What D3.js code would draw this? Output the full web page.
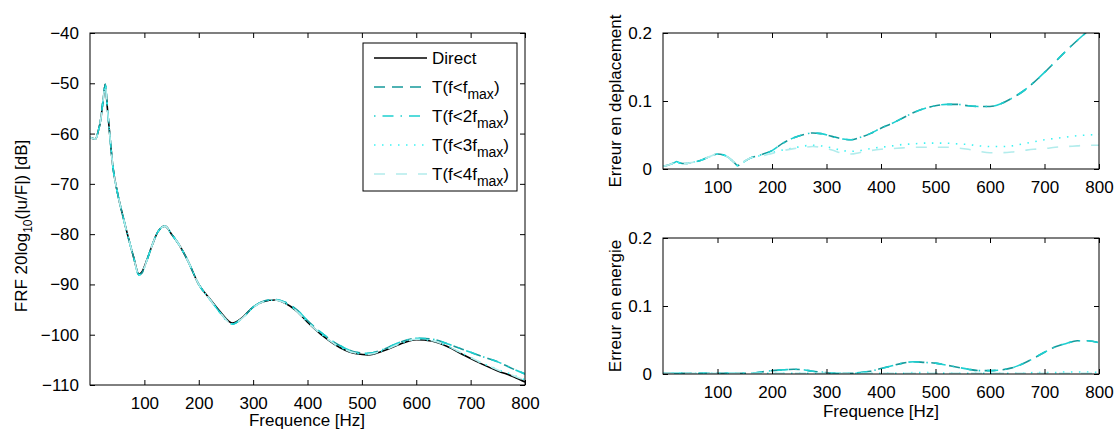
<!DOCTYPE html>
<html>
<head>
<meta charset="utf-8">
<script src="https://cdn.jsdelivr.net/npm/d3@7"></script>
<style>
  html, body { margin: 0; padding: 0; background: #fff; }
  svg { display: block; }
  text { font-family: "Liberation Sans", Arial, Helvetica, sans-serif; fill: #000; }
</style>
</head>
<body>
<svg id="chart" width="1119" height="434"></svg>
<script>
// ---------------- DATA ----------------
const frfFreq = [0, 5, 10, 15, 20, 25, 28, 32, 36, 42, 50, 60, 70, 80, 90, 95, 105, 115, 125, 138, 150, 165, 180, 200, 220, 240, 255, 262, 280, 300, 320, 340, 360, 380, 400, 430, 460, 490, 512, 540, 570, 600, 630, 660, 690, 720, 750, 780, 800];
const frfDirect = [-60.8, -61.0, -61.1, -59.6, -57.0, -52.5, -50.2, -55.0, -59.8, -66.5, -71.5, -76.2, -80.5, -84.5, -88.0, -87.6, -85.0, -82.0, -79.5, -78.4, -80.0, -82.3, -85.3, -90.0, -92.8, -95.5, -97.3, -97.7, -96.6, -94.5, -93.4, -93.1, -93.8, -95.3, -97.5, -100.4, -102.6, -103.8, -104.0, -103.2, -101.9, -101.0, -101.3, -102.5, -104.2, -105.8, -107.2, -108.4, -109.4];
const frfT1 = [-60.8, -61.0, -61.1, -59.6, -57.0, -52.5, -50.2, -55.0, -59.8, -66.5, -71.5, -76.2, -80.5, -84.5, -88.1, -87.8, -85.1, -82.0, -79.5, -78.4, -80.0, -82.3, -85.3, -90.0, -92.9, -95.7, -97.5, -97.9, -96.7, -94.5, -93.3, -93.0, -93.6, -95.0, -97.2, -100.0, -102.2, -103.5, -103.7, -102.9, -101.5, -100.7, -100.9, -101.9, -103.1, -104.3, -105.4, -106.9, -107.8];
const frfT2 = [-60.8, -61.0, -61.1, -59.6, -57.0, -52.5, -50.2, -55.0, -59.8, -66.5, -71.5, -76.2, -80.5, -84.5, -88.1, -87.8, -85.1, -82.0, -79.5, -78.4, -80.0, -82.3, -85.3, -90.0, -92.9, -95.7, -97.5, -97.9, -96.7, -94.5, -93.3, -93.0, -93.6, -95.0, -97.2, -100.0, -102.2, -103.5, -103.7, -102.9, -101.5, -100.7, -100.9, -101.9, -103.1, -104.3, -105.4, -106.9, -107.8];
const frfT3 = [-60.8, -61.0, -61.1, -59.6, -57.0, -52.5, -50.2, -55.0, -59.8, -66.5, -71.5, -76.2, -80.5, -84.5, -88.1, -87.8, -85.1, -82.0, -79.5, -78.4, -80.0, -82.3, -85.3, -90.0, -92.9, -95.7, -97.5, -97.9, -96.7, -94.6, -93.4, -93.1, -93.8, -95.3, -97.5, -100.3, -102.5, -103.7, -103.9, -103.1, -101.8, -100.9, -101.2, -102.4, -104.0, -105.6, -106.9, -108.1, -109.0];
const frfT4 = [-60.8, -61.0, -61.1, -59.6, -57.0, -52.5, -50.2, -55.0, -59.8, -66.5, -71.5, -76.2, -80.5, -84.5, -88.1, -87.8, -85.1, -82.0, -79.5, -78.4, -80.0, -82.3, -85.3, -90.0, -92.9, -95.7, -97.5, -97.9, -96.7, -94.6, -93.4, -93.1, -93.8, -95.3, -97.5, -100.3, -102.5, -103.7, -103.9, -103.1, -101.8, -100.9, -101.2, -102.4, -104.0, -105.6, -107.0, -108.2, -109.1];

const errFreq = [0, 10, 20, 25, 30, 40, 55, 70, 85, 100, 110, 120, 130, 137, 145, 160, 180, 200, 220, 240, 260, 275, 290, 310, 330, 345, 360, 380, 400, 420, 440, 460, 480, 500, 520, 540, 560, 580, 600, 620, 640, 660, 680, 700, 720, 740, 760, 780, 800];
const dispT1 = [0.004, 0.006, 0.009, 0.011, 0.009, 0.008, 0.010, 0.013, 0.018, 0.022, 0.021, 0.017, 0.010, 0.005, 0.009, 0.016, 0.021, 0.027, 0.038, 0.046, 0.051, 0.053, 0.052, 0.048, 0.044, 0.043, 0.046, 0.052, 0.060, 0.067, 0.075, 0.083, 0.089, 0.093, 0.095, 0.095, 0.093, 0.092, 0.092, 0.096, 0.104, 0.114, 0.127, 0.142, 0.158, 0.174, 0.189, 0.203, 0.215];
const dispT2 = [0.004, 0.006, 0.009, 0.011, 0.009, 0.008, 0.010, 0.013, 0.018, 0.022, 0.021, 0.017, 0.010, 0.005, 0.009, 0.016, 0.021, 0.027, 0.038, 0.046, 0.051, 0.053, 0.052, 0.048, 0.044, 0.043, 0.046, 0.052, 0.060, 0.067, 0.075, 0.083, 0.089, 0.093, 0.095, 0.095, 0.093, 0.092, 0.092, 0.096, 0.104, 0.114, 0.127, 0.142, 0.158, 0.174, 0.189, 0.203, 0.215];
const dispT3 = [0.004, 0.006, 0.009, 0.011, 0.009, 0.008, 0.010, 0.013, 0.018, 0.022, 0.021, 0.017, 0.010, 0.005, 0.009, 0.016, 0.020, 0.024, 0.028, 0.031, 0.034, 0.035, 0.034, 0.031, 0.027, 0.026, 0.027, 0.030, 0.032, 0.034, 0.036, 0.037, 0.038, 0.038, 0.038, 0.037, 0.036, 0.034, 0.033, 0.033, 0.034, 0.037, 0.040, 0.043, 0.045, 0.047, 0.049, 0.050, 0.051];
const dispT4 = [0.004, 0.006, 0.009, 0.011, 0.009, 0.008, 0.010, 0.013, 0.018, 0.022, 0.021, 0.017, 0.010, 0.005, 0.009, 0.016, 0.019, 0.023, 0.027, 0.030, 0.032, 0.033, 0.032, 0.028, 0.023, 0.022, 0.024, 0.027, 0.029, 0.030, 0.031, 0.032, 0.032, 0.032, 0.032, 0.031, 0.029, 0.026, 0.024, 0.024, 0.025, 0.027, 0.029, 0.030, 0.032, 0.033, 0.034, 0.035, 0.035];

const energyT1 = [0.001, 0.001, 0.001, 0.001, 0.001, 0.001, 0.001, 0.001, 0.001, 0.001, 0.001, 0.001, 0.001, 0.001, 0.001, 0.001, 0.003, 0.005, 0.006, 0.007, 0.006, 0.004, 0.003, 0.001, 0.001, 0.001, 0.002, 0.004, 0.008, 0.012, 0.016, 0.018, 0.017, 0.016, 0.013, 0.010, 0.007, 0.005, 0.005, 0.006, 0.009, 0.015, 0.023, 0.032, 0.040, 0.045, 0.049, 0.049, 0.046];
const energyT2 = [0.001, 0.001, 0.001, 0.001, 0.001, 0.001, 0.001, 0.001, 0.001, 0.001, 0.001, 0.001, 0.001, 0.001, 0.001, 0.001, 0.003, 0.005, 0.006, 0.007, 0.006, 0.004, 0.003, 0.001, 0.001, 0.001, 0.002, 0.004, 0.008, 0.012, 0.016, 0.018, 0.017, 0.016, 0.013, 0.010, 0.007, 0.005, 0.005, 0.006, 0.009, 0.015, 0.023, 0.032, 0.040, 0.045, 0.049, 0.049, 0.046];
const energyT3 = [0.001, 0.001, 0.001, 0.001, 0.001, 0.001, 0.001, 0.001, 0.001, 0.001, 0.001, 0.001, 0.001, 0.001, 0.001, 0.001, 0.001, 0.001, 0.001, 0.001, 0.001, 0.001, 0.001, 0.001, 0.001, 0.001, 0.001, 0.001, 0.001, 0.001, 0.001, 0.002, 0.002, 0.002, 0.001, 0.001, 0.001, 0.001, 0.001, 0.001, 0.001, 0.001, 0.002, 0.002, 0.002, 0.003, 0.003, 0.003, 0.002];
const energyT4 = [0.001, 0.001, 0.001, 0.001, 0.001, 0.001, 0.001, 0.001, 0.001, 0.001, 0.001, 0.001, 0.001, 0.001, 0.001, 0.001, 0.001, 0.001, 0.001, 0.001, 0.001, 0.001, 0.001, 0.001, 0.001, 0.001, 0.001, 0.001, 0.001, 0.001, 0.001, 0.001, 0.001, 0.001, 0.001, 0.001, 0.001, 0.001, 0.001, 0.001, 0.001, 0.001, 0.001, 0.001, 0.001, 0.001, 0.001, 0.001, 0.001];

const seriesNames = ["Direct", "T1", "T2", "T3", "T4"];
const xTicks = [100, 200, 300, 400, 500, 600, 700, 800];
const frfTicks = [-110, -100, -90, -80, -70, -60, -50, -40];
const errTicks = [0, 0.1, 0.2];

// ---------------- STYLES ----------------
const styles = {
  Direct: { color: "#000000", dash: null,           width: 1.6 },
  T1:     { color: "#16999a", dash: "11,7",          width: 1.6 },
  T2:     { color: "#1ecfd0", dash: "1.5,7,11,7",    width: 1.6 },
  T3:     { color: "#3cf3f3", dash: "1.5,6.5",       width: 1.6 },
  T4:     { color: "#b2ecec", dash: "11,11",         width: 1.6 }
};

const svg = d3.select("#chart");
const FS = 17;

function drawPanel(opts) {
  const { x0, x1, y0, y1, yDomain, yTicks, yFmt, series } = opts;
  const x = d3.scaleLinear().domain([0, 800]).range([x0, x1]);
  const y = d3.scaleLinear().domain(yDomain).range([y1, y0]);
  const g = svg.append("g");
  const clipId = "clip" + Math.round(x0) + "_" + Math.round(y0);
  svg.append("clipPath").attr("id", clipId)
    .append("rect").attr("x", x0).attr("y", y0).attr("width", x1 - x0).attr("height", y1 - y0);

  const line = d3.line().curve(d3.curveMonotoneX);
  const lg = g.append("g").attr("clip-path", `url(#${clipId})`);
  series.forEach(s => {
    const st = styles[s.name];
    line.x(d => x(d[0])).y(d => y(d[1]));
    lg.append("path")
      .datum(s.xs.map((v, i) => [v, s.ys[i]]))
      .attr("d", line)
      .attr("fill", "none")
      .attr("stroke", st.color)
      .attr("stroke-width", st.width)
      .attr("stroke-dasharray", st.dash)
      .attr("stroke-linejoin", "round");
  });

  // axes (inward ticks, box)
  const tl = 5;
  const bottom = d3.axisBottom(x).tickValues(xTicks).tickSize(-tl).tickPadding(tl + 7).tickFormat(d3.format("d"));
  const top = d3.axisTop(x).tickValues(xTicks).tickSize(-tl).tickFormat("");
  const left = d3.axisLeft(y).tickValues(yTicks).tickSize(-tl).tickPadding(tl + 6).tickFormat(yFmt);
  const right = d3.axisRight(y).tickValues(yTicks).tickSize(-tl).tickFormat("");
  const ax = [
    g.append("g").attr("transform", `translate(0,${y1})`).call(bottom),
    g.append("g").attr("transform", `translate(0,${y0})`).call(top),
    g.append("g").attr("transform", `translate(${x0},0)`).call(left),
    g.append("g").attr("transform", `translate(${x1},0)`).call(right)
  ];
  ax.forEach(a => {
    a.select(".domain").remove();
    a.selectAll(".tick line").attr("stroke", "#000").attr("stroke-width", 1);
    a.selectAll(".tick text").attr("font-size", FS).attr("font-family", '"Liberation Sans", Arial, sans-serif').attr("fill", "#000");
  });
  g.append("rect").attr("x", x0).attr("y", y0).attr("width", x1 - x0).attr("height", y1 - y0)
    .attr("fill", "none").attr("stroke", "#000").attr("stroke-width", 1);
  return { x, y, g };
}

const minusFmt = d => (d < 0 ? "\u2212" + Math.abs(d) : String(d));
const errFmt = d => (d === 0 ? "0" : String(d));

// ---- Left panel ----
drawPanel({
  x0: 90, x1: 525, y0: 33, y1: 385,
  yDomain: [-110, -40], yTicks: frfTicks, yFmt: minusFmt,
  series: [
    { name: "Direct", xs: frfFreq, ys: frfDirect },
    { name: "T1", xs: frfFreq, ys: frfT1 },
    { name: "T2", xs: frfFreq, ys: frfT2 },
    { name: "T3", xs: frfFreq, ys: frfT3 },
    { name: "T4", xs: frfFreq, ys: frfT4 }
  ]
});

// ---- Right top ----
drawPanel({
  x0: 663, x1: 1099, y0: 33, y1: 169,
  yDomain: [0, 0.2], yTicks: errTicks, yFmt: errFmt,
  series: [
    { name: "T1", xs: errFreq, ys: dispT1 },
    { name: "T2", xs: errFreq, ys: dispT2 },
    { name: "T3", xs: errFreq, ys: dispT3 },
    { name: "T4", xs: errFreq, ys: dispT4 }
  ]
});

// ---- Right bottom ----
drawPanel({
  x0: 663, x1: 1099, y0: 238, y1: 374,
  yDomain: [0, 0.2], yTicks: errTicks, yFmt: errFmt,
  series: [
    { name: "T1", xs: errFreq, ys: energyT1 },
    { name: "T2", xs: errFreq, ys: energyT2 },
    { name: "T3", xs: errFreq, ys: energyT3 },
    { name: "T4", xs: errFreq, ys: energyT4 }
  ]
});

// ---- Axis labels ----
svg.append("text").attr("x", 307).attr("y", 426).attr("text-anchor", "middle").attr("font-size", FS).text("Frequence [Hz]");
svg.append("text").attr("x", 881).attr("y", 417).attr("text-anchor", "middle").attr("font-size", FS).text("Frequence [Hz]");

const yl = svg.append("text").attr("transform", "translate(27,226) rotate(-90)").attr("text-anchor", "middle").attr("font-size", FS);
yl.append("tspan").text("FRF 20log");
yl.append("tspan").attr("font-size", 12).attr("dy", 5).text("10");
yl.append("tspan").attr("dy", -5).text("(|u/F|) [dB]");

svg.append("text").attr("transform", "translate(621,101) rotate(-90)").attr("text-anchor", "middle").attr("font-size", FS).text("Erreur en deplacement");
svg.append("text").attr("transform", "translate(621,306) rotate(-90)").attr("text-anchor", "middle").attr("font-size", FS).text("Erreur en energie");

// ---- Legend ----
const leg = svg.append("g");
leg.append("rect").attr("x", 363).attr("y", 43).attr("width", 154).attr("height", 148)
  .attr("fill", "#fff").attr("stroke", "#000").attr("stroke-width", 1);
const legendLabels = [
  { name: "Direct", main: "Direct", sub: null },
  { name: "T1", main: "T(f<f", sub: "max" },
  { name: "T2", main: "T(f<2f", sub: "max" },
  { name: "T3", main: "T(f<3f", sub: "max" },
  { name: "T4", main: "T(f<4f", sub: "max" }
];
const legRows = [58, 87, 116, 145, 174];
legendLabels.forEach((l, i) => {
  const st = styles[l.name];
  const yy = legRows[i];
  leg.append("line").attr("x1", 374).attr("x2", 427).attr("y1", yy).attr("y2", yy)
    .attr("stroke", st.color).attr("stroke-width", st.width).attr("stroke-dasharray", st.dash);
  const t = leg.append("text").attr("x", 432).attr("y", yy + 6).attr("font-size", FS);
  t.append("tspan").text(l.main);
  if (l.sub) {
    t.append("tspan").attr("font-size", 14).attr("dy", 6).text(l.sub);
    t.append("tspan").attr("dy", -6).text(")");
  }
});
</script>
</body>
</html>
